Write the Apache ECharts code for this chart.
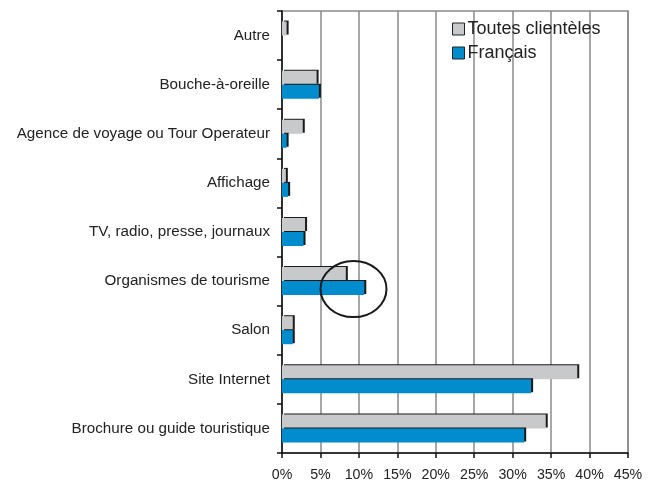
<!DOCTYPE html>
<html>
<head>
<meta charset="utf-8">
<script src="https://cdn.jsdelivr.net/npm/echarts@6/dist/echarts.min.js"></script>
<style>
  html, body { margin: 0; padding: 0; background: #fff; }
  #chart { width: 661px; height: 483px; }
</style>
</head>
<body>
<div id="chart"></div>
<script>
// categories, bottom to top
const categories = [
  'Brochure ou guide touristique',
  'Site Internet',
  'Salon',
  'Organismes de tourisme',
  'TV, radio, presse, journaux',
  'Affichage',
  'Agence de voyage ou Tour Operateur',
  'Bouche-à-oreille',
  'Autre'
];
const toutesClienteles = [34.3, 38.4, 1.4, 8.3, 3.0, 0.5, 2.7, 4.5, 0.6];
const francais = [31.5, 32.4, 1.4, 10.7, 2.8, 0.8, 0.6, 4.8, 0];
const xMin = 0, xMax = 45, xStep = 5;

const fontFamily = 'Liberation Sans, Arial, Helvetica, sans-serif';
const chart = echarts.init(document.getElementById('chart'));

// dark edge on right and top of each bar, like the original
const edge = { shadowColor: '#1a1a1a', shadowBlur: 0, shadowOffsetX: 2, shadowOffsetY: -1 };

const option = {
  animation: false,
  grid: { left: 282, right: 33, top: 11, bottom: 30, show: true, borderColor: '#8a8a8a', borderWidth: 1.5 },
  legend: {
    orient: 'vertical',
    left: 447, top: 15,
    itemWidth: 12, itemHeight: 12, itemGap: 6,
    icon: 'rect',
    data: ['Toutes clientèles', 'Français'],
    itemStyle: { borderColor: '#222', borderWidth: 1 },
    textStyle: { fontSize: 18, color: '#222', fontFamily: fontFamily, padding: [0, 0, 0, -2] }
  },
  xAxis: {
    type: 'value',
    min: xMin, max: xMax, interval: xStep,
    axisLine: { show: true, lineStyle: { color: '#111', width: 1.5 } },
    axisTick: { show: true, length: 5, lineStyle: { color: '#111', width: 1.5 } },
    axisLabel: { formatter: '{value}%', fontSize: 14.2, color: '#222', margin: 15, fontFamily: fontFamily },
    splitLine: { show: true, lineStyle: { color: '#8a8a8a', width: 1.5 } }
  },
  yAxis: {
    type: 'category',
    data: categories,
    axisLine: { show: true, lineStyle: { color: '#111', width: 1.5 } },
    axisTick: { show: true, length: 5, lineStyle: { color: '#111', width: 1.5 } },
    axisLabel: { fontSize: 15.2, color: '#222', margin: 12, fontFamily: fontFamily },
    splitLine: { show: false }
  },
  series: [
    {
      name: 'Toutes clientèles',
      type: 'bar',
      data: toutesClienteles,
      barWidth: 14,
      barGap: '0%',
      itemStyle: Object.assign({ color: '#c8c9cb' }, edge)
    },
    {
      name: 'Français',
      type: 'bar',
      data: francais,
      barWidth: 14,
      barGap: '0%',
      itemStyle: Object.assign({ color: '#008ccd' }, edge)
    }
  ]
};
chart.setOption(option);

// hand-drawn circle around the "Organismes de tourisme" bars
const c = chart.convertToPixel({ gridIndex: 0 }, [9.3, 'Organismes de tourisme']);
chart.setOption({
  graphic: [{
    type: 'ellipse',
    shape: { cx: c[0], cy: c[1] + 8, rx: 33, ry: 28 },
    style: { fill: 'none', stroke: '#1a1a1a', lineWidth: 2 },
    z: 100
  }]
});
</script>
</body>
</html>
